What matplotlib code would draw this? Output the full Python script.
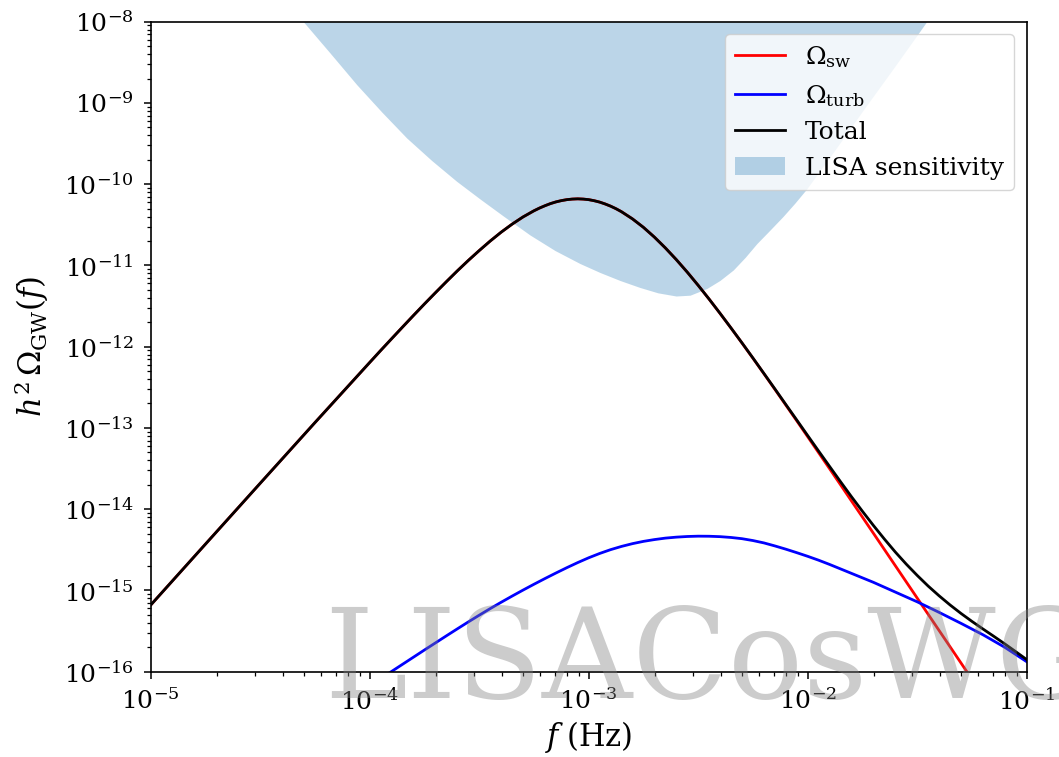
import numpy as np
import matplotlib
matplotlib.use('Agg')
import matplotlib.pyplot as plt
from matplotlib.lines import Line2D
from matplotlib.patches import Patch

plt.rcParams['font.family'] = ['DejaVu Serif']
plt.rcParams['mathtext.fontset'] = 'dejavuserif'

# ---- data (log10 values) ----
log_f_sw = [-5.0, -4.75, -4.5, -4.25, -4.0, -3.95, -3.9, -3.85, -3.8, -3.75, -3.7, -3.65,
            -3.6, -3.55, -3.5, -3.45, -3.4, -3.35, -3.3, -3.25, -3.225, -3.2, -3.175,
            -3.15, -3.125, -3.1, -3.075, -3.05, -3.025, -3.0, -2.975, -2.95, -2.925,
            -2.9, -2.875, -2.85, -2.8, -2.75, -2.7, -2.65, -2.6, -2.55, -2.5, -2.45,
            -2.4, -2.35, -2.3, -2.25, -2.2, -2.15, -2.1, -2.05, -2.0, -1.95, -1.9,
            -1.85, -1.8, -1.7, -1.6, -1.5, -1.4, -1.3, -1.2, -1.1]
log_omega_sw = [-15.180, -14.430, -13.681, -12.934, -12.194, -12.047, -11.902, -11.758,
                -11.615, -11.474, -11.336, -11.200, -11.067, -10.939, -10.817, -10.700,
                -10.591, -10.492, -10.403, -10.327, -10.294, -10.265, -10.239, -10.218,
                -10.202, -10.190, -10.183, -10.180, -10.183, -10.190, -10.203, -10.220,
                -10.243, -10.270, -10.302, -10.339, -10.427, -10.531, -10.651, -10.784,
                -10.928, -11.082, -11.245, -11.415, -11.591, -11.771, -11.955, -12.142,
                -12.332, -12.524, -12.718, -12.912, -13.108, -13.305, -13.502, -13.700,
                -13.899, -14.296, -14.695, -15.094, -15.493, -15.893, -16.293, -16.692]

log_f_turb = [-3.95, -3.9, -3.85, -3.8, -3.75, -3.7, -3.65, -3.6, -3.55, -3.5, -3.45, -3.4,
              -3.35, -3.3, -3.25, -3.2, -3.15, -3.1, -3.05, -3.0, -2.95, -2.9, -2.85, -2.8,
              -2.75, -2.7, -2.65, -2.6, -2.55, -2.5, -2.45, -2.4, -2.35, -2.3, -2.25, -2.2,
              -2.15, -2.1, -2.05, -2.0, -1.95, -1.9, -1.85, -1.8, -1.75, -1.7, -1.6, -1.5,
              -1.4, -1.3, -1.2, -1.1, -1.0]
log_omega_turb = [-16.085, -15.997, -15.909, -15.821, -15.733, -15.646, -15.559, -15.473,
                  -15.388, -15.305, -15.224, -15.146, -15.070, -14.996, -14.924, -14.854,
                  -14.786, -14.720, -14.657, -14.598, -14.545, -14.498, -14.458, -14.424,
                  -14.396, -14.374, -14.356, -14.344, -14.336, -14.332, -14.333, -14.338,
                  -14.348, -14.363, -14.386, -14.415, -14.452, -14.492, -14.535, -14.580,
                  -14.628, -14.680, -14.735, -14.790, -14.845, -14.900, -15.020, -15.140,
                  -15.270, -15.405, -15.545, -15.700, -15.877]

log_f_total = [-5.0, -4.75, -4.5, -4.25, -4.0, -3.95, -3.9, -3.85, -3.8, -3.75, -3.7, -3.65,
               -3.6, -3.55, -3.5, -3.45, -3.4, -3.35, -3.3, -3.25, -3.225, -3.2, -3.175,
               -3.15, -3.125, -3.1, -3.075, -3.05, -3.025, -3.0, -2.975, -2.95, -2.925,
               -2.9, -2.875, -2.85, -2.8, -2.75, -2.7, -2.65, -2.6, -2.55, -2.5, -2.45,
               -2.4, -2.35, -2.3, -2.25, -2.2, -2.15, -2.1, -2.05, -2.0, -1.95, -1.9,
               -1.85, -1.8, -1.75, -1.7, -1.65, -1.6, -1.55, -1.5, -1.45, -1.4, -1.35,
               -1.3, -1.25, -1.2, -1.15, -1.1, -1.05, -1.0]
log_omega_total = [-15.180, -14.430, -13.681, -12.934, -12.194, -12.047, -11.902, -11.758,
                   -11.615, -11.474, -11.336, -11.200, -11.067, -10.939, -10.817, -10.700,
                   -10.591, -10.492, -10.403, -10.327, -10.294, -10.265, -10.239, -10.218,
                   -10.202, -10.190, -10.183, -10.180, -10.183, -10.190, -10.203, -10.220,
                   -10.243, -10.270, -10.302, -10.339, -10.427, -10.531, -10.651, -10.784,
                   -10.928, -11.082, -11.245, -11.4145, -11.590, -11.770, -11.953, -12.1395,
                   -12.329, -12.519, -12.711, -12.902, -13.094, -13.285, -13.474, -13.662,
                   -13.847, -14.026, -14.200, -14.367, -14.527, -14.676, -14.815, -14.946,
                   -15.066, -15.1785, -15.283, -15.381, -15.474, -15.565, -15.658, -15.754,
                   -15.851]

log_f_lisa = [-4.303, -4.181, -4.059, -3.945, -3.831, -3.717, -3.603, -3.496, -3.390,
              -3.268, -3.154, -3.040, -2.948, -2.857, -2.766, -2.684, -2.601, -2.537,
              -2.461, -2.401, -2.340, -2.286, -2.232, -2.172, -2.113, -2.058, -2.005,
              -1.871, -1.743, -1.601, -1.457]
log_omega_lisa = [-8.0, -8.385, -8.775, -9.111, -9.431, -9.708, -9.964, -10.182, -10.391,
                  -10.625, -10.816, -10.976, -11.087, -11.185, -11.271, -11.337, -11.376,
                  -11.366, -11.284, -11.185, -11.056, -10.902, -10.730, -10.564, -10.398,
                  -10.231, -10.059, -9.561, -9.074, -8.545, -8.0]

labels = [r'$\Omega_{\rm sw}$', r'$\Omega_{\rm turb}$', 'Total', 'LISA sensitivity']

# ---- figure ----
fig = plt.figure(figsize=(10.59, 7.57), dpi=100)
ax = fig.add_axes([0.1423, 0.1127, 0.8272, 0.8586])

ax.fill_between(10.0 ** np.array(log_f_lisa), 10.0 ** np.array(log_omega_lisa), 1e-8,
                color='C0', alpha=0.3, lw=0, zorder=1)

ax.plot(10.0 ** np.array(log_f_sw), 10.0 ** np.array(log_omega_sw), color='r', lw=2, zorder=2)
ax.plot(10.0 ** np.array(log_f_turb), 10.0 ** np.array(log_omega_turb), color='b', lw=2, zorder=2)
ax.plot(10.0 ** np.array(log_f_total), 10.0 ** np.array(log_omega_total), color='k', lw=2, zorder=2)

ax.set_xscale('log')
ax.set_yscale('log')
ax.set_xlim(1e-5, 1e-1)
ax.set_ylim(1e-16, 1e-8)

ax.tick_params(which='major', length=5, width=1.1, labelsize=18, pad=7)
ax.tick_params(which='minor', length=2.8, width=0.9)
for s in ax.spines.values():
    s.set_linewidth(1.2)

ax.set_xlabel(r'$f\;({\rm Hz})$', fontsize=22, labelpad=3)
ax.set_ylabel(r'$h^2\,\Omega_{\rm GW}(f)$', fontsize=22, labelpad=9)

handles = [Line2D([], [], color='r', lw=2), Line2D([], [], color='b', lw=2),
           Line2D([], [], color='k', lw=2), Patch(color='C0', alpha=0.3, lw=0)]
ax.legend(handles, labels, loc='upper right', fontsize=18)

fig.text(324 / 1059, (757 - 698) / 757, 'LISACosWG', fontsize=90, color='gray',
         alpha=0.4, ha='left', va='baseline', family='DejaVu Serif')

fig.savefig('out.png', dpi=100)
